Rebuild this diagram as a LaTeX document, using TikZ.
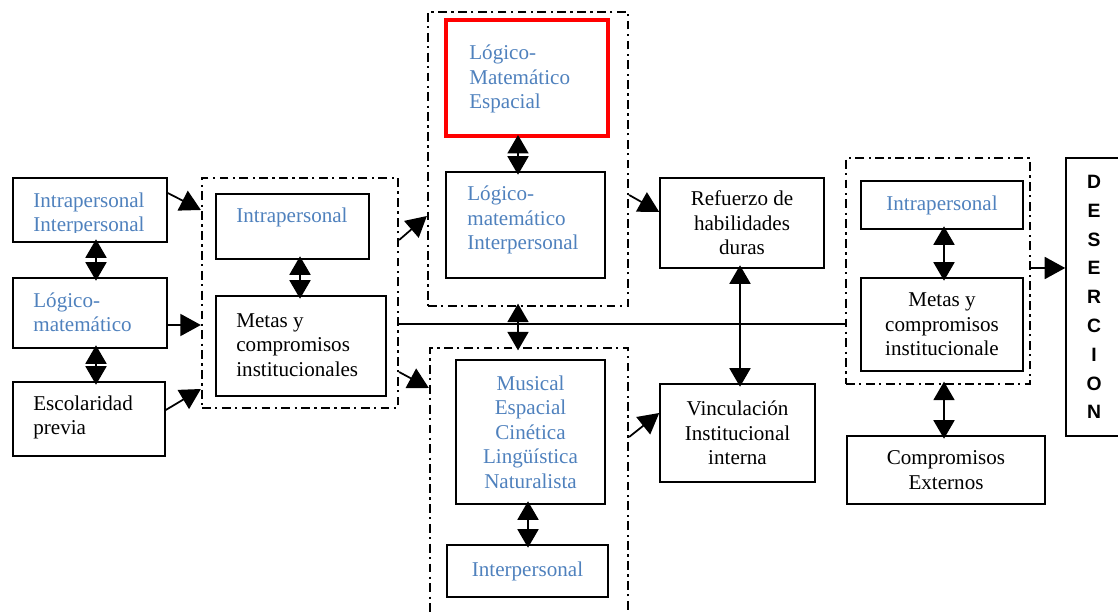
\documentclass[tikz,border=0pt]{standalone}
\usepackage{fontspec}
\setmainfont{Liberation Serif}
\newfontfamily\desfont{Liberation Sans}
\usetikzlibrary{arrows.meta,positioning}
\definecolor{txtblue}{RGB}{79,129,189}
\definecolor{boxred}{RGB}{255,0,0}

\begin{document}
\begin{tikzpicture}[x=0.02cm, y=-0.02cm,
    font=\fontsize{12}{13.9}\selectfont,
    block/.style={rectangle, draw, line width=0.9pt, inner sep=2pt, align=center},
    group/.style={rectangle, draw, line width=1.3pt, dash pattern=on 5pt off 2.5pt on 1.3pt off 2.5pt},
    lbl/.style={inner sep=0pt, align=left, anchor=west},
    arrow/.style={-{Triangle[length=0.41cm,width=0.44cm]}, line width=1pt},
    dblarrow/.style={{Triangle[length=0.37cm,width=0.42cm]}-{Triangle[length=0.37cm,width=0.42cm]},
        line width=1pt, shorten <=-0.07cm, shorten >=-0.07cm}
]
\useasboundingbox (0,0) rectangle (1118,614);

% Left column
\node[block, minimum width=3.08cm, minimum height=1.28cm] (intinter) at (90,210) {};
\begin{scope}
\clip (intinter.north west) rectangle ([yshift=0.2cm]intinter.south east);
\node[lbl, text=txtblue] (intintertxt) at (33,214.5) {Intrapersonal\\Interpersonal};
\end{scope}
\node[block, minimum width=3.08cm, minimum height=1.4cm] (logmat) at (90,313) {};
\node[lbl, text=txtblue] (logmattxt) at (33,312.5) {Lógico-\\matemático};
\node[block, minimum width=3.04cm, minimum height=1.48cm] (escol) at (89,419) {};
\node[lbl] (escoltxt) at (33,417.5) {Escolaridad\\previa};

% First group
\node[group, minimum width=3.92cm, minimum height=4.6cm] (g1) at (300,293) {};
\node[block, minimum width=3.06cm, minimum height=1.3cm] (intra1) at (292.5,226.5) {};
\node[lbl, text=txtblue] (intra1txt) at (236,217) {Intrapersonal};
\node[block, minimum width=3.4cm, minimum height=2cm] (metas1) at (301,346) {};
\node[lbl] (metas1txt) at (236,345) {Metas y\\compromisos\\institucionales};

% Middle group, top
\node[group, minimum width=4cm, minimum height=5.88cm] (g2) at (528,159) {};
\node[block, draw=boxred, line width=2.8pt, minimum width=3.24cm, minimum height=2.32cm] (espacial) at (527,78) {};
\node[lbl, text=txtblue] (espacialtxt) at (469,79) {Lógico-\\Matemático\\Espacial};
\node[block, minimum width=3.18cm, minimum height=2.12cm] (logint) at (525.5,225) {};
\node[lbl, text=txtblue] (loginttxt) at (467,220) {Lógico-\\matemático\\Interpersonal};

% Middle group, bottom
\node[group, minimum width=3.96cm, minimum height=5.64cm] (g3) at (529,489) {};
\node[block, text=txtblue, minimum width=2.98cm, minimum height=2.88cm] (musical) at (530.5,432) {Musical\\Espacial\\Cinética\\Lingüística\\Naturalista};
\node[block, text=txtblue, minimum width=3.22cm, minimum height=1.04cm] (inter3) at (527.5,571) {Interpersonal};

% Right side
\node[block, minimum width=3.28cm, minimum height=1.8cm] (refuerzo) at (742,223) {Refuerzo de\\habilidades\\duras};
\node[block, minimum width=3.1cm, minimum height=1.96cm] (vincul) at (737.5,433) {Vinculación\\Institucional\\interna};
\node[group, minimum width=3.68cm, minimum height=4.52cm] (g4) at (938,271) {};
\node[block, text=txtblue, minimum width=3.24cm, minimum height=0.96cm] (intra4) at (942,205) {Intrapersonal};
\node[block, minimum width=3.24cm, minimum height=1.86cm] (metas4) at (942,324.5) {Metas y\\compromisos\\institucionale};
\node[block, minimum width=3.96cm, minimum height=1.36cm] (compext) at (946,470) {Compromisos\\Externos};
\node[block, minimum width=1.12cm, minimum height=5.56cm, font=\desfont\bfseries\fontsize{11}{16.4}\selectfont] (desercion) at (1094,297) {D\\E\\S\\E\\R\\C\\I\\O\\N};

% Into the first group
\draw[arrow] (intinter.east |- 0,193) -- (g1.west |- 0,210);
\draw[arrow] (logmat.east |- 0,325) -- (g1.west |- 0,325);
\draw[arrow] (escol.east |- 0,410) -- (g1.west |- 0,389);
\draw[dblarrow] (intinter.south -| 96,0) -- (logmat.north -| 96,0);
\draw[dblarrow] (logmat.south -| 96,0) -- (escol.north -| 96,0);
\draw[dblarrow] (intra1.south -| 300,0) -- (metas1.north -| 300,0);

% Out of the first group
\draw[arrow] (g1.east |- 0,240) -- (g2.west |- 0,216);
\draw[arrow] (g1.east |- 0,372) -- (g3.west |- 0,388);
\draw[line width=1pt] (g1.east |- 0,324) -- (g4.west |- 0,324);

\draw[dblarrow] (espacial.south -| 518,0) -- (logint.north -| 518,0);
\draw[dblarrow] (g2.south -| 518,0) -- (g3.north -| 518,0);
\draw[dblarrow] (musical.south -| 528,0) -- (inter3.north -| 528,0);

\draw[arrow] (g2.east |- 0,195) -- (refuerzo.west |- 0,212);
\draw[arrow] (g3.east |- 0,437) -- (vincul.west |- 0,413);
\draw[dblarrow] (refuerzo.south -| 740,0) -- (vincul.north -| 740,0);
\draw[dblarrow] (intra4.south -| 944,0) -- (metas4.north -| 944,0);
\draw[dblarrow] (g4.south -| 944,0) -- (compext.north -| 944,0);
\draw[arrow] (g4.east |- 0,268) -- (desercion.west |- 0,268);

\end{tikzpicture}
\end{document}
